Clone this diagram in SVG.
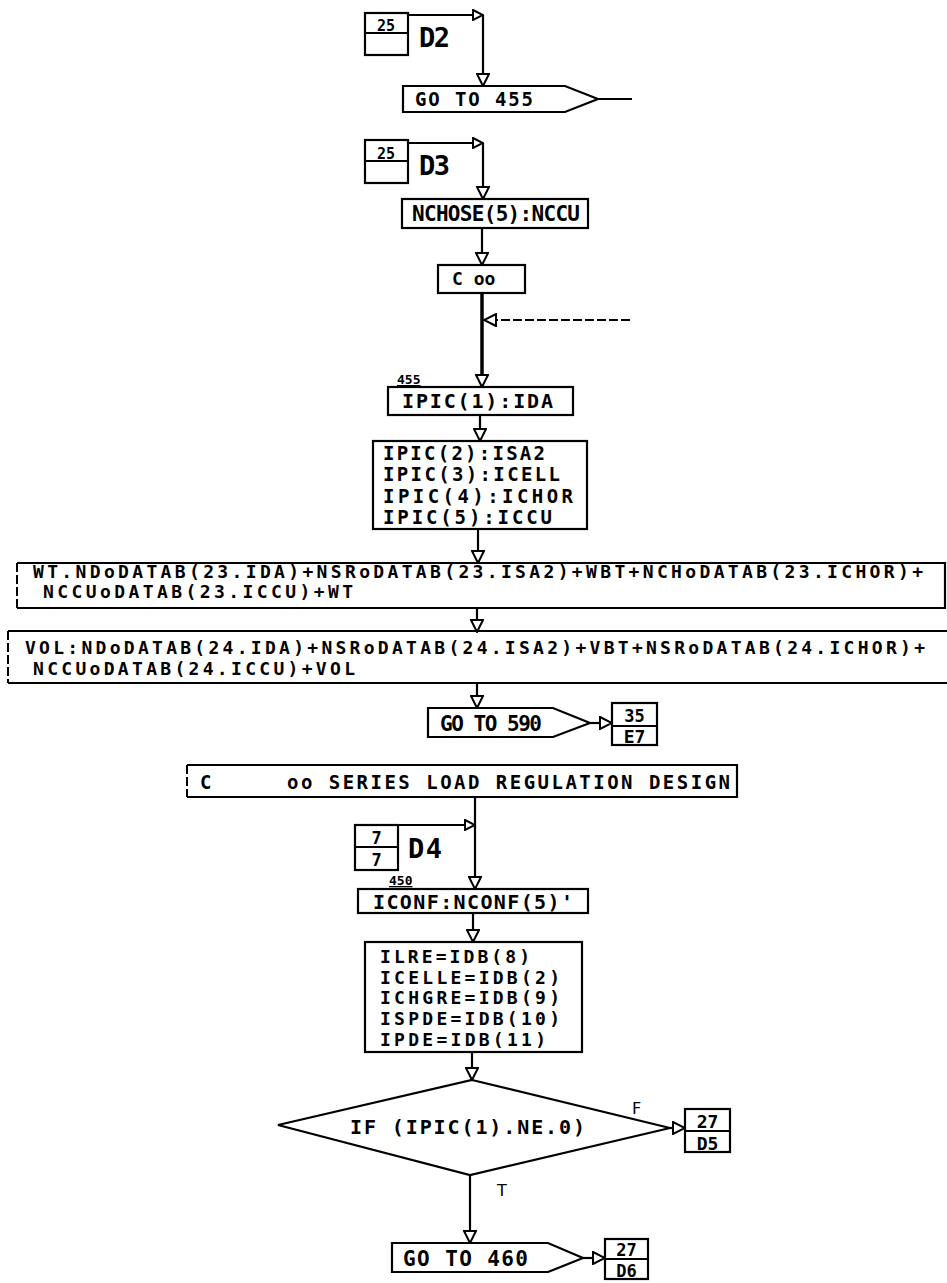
<svg xmlns="http://www.w3.org/2000/svg" width="947" height="1283" viewBox="0 0 947 1283">
<style>
.b{fill:#fff;stroke:#000;stroke-width:2.2}
.c{fill:none;stroke:#000;stroke-width:2.2}
.d{fill:none;stroke:#000;stroke-width:2;stroke-dasharray:9 3}
.t{font-family:"DejaVu Sans Mono","Liberation Mono",monospace;font-weight:bold;fill:#000}
.s{font-family:"DejaVu Sans Mono","Liberation Mono",monospace;font-weight:bold;fill:#000;font-size:13px;text-decoration:underline}
.l{font-family:"DejaVu Sans","Liberation Sans",sans-serif;fill:#000}
</style>
<defs>
<marker id="arr" markerUnits="userSpaceOnUse" viewBox="0 0 14 14" markerWidth="14" markerHeight="14" refX="13" refY="7" orient="auto">
<path d="M1,1 L13,7 L1,13 Z" fill="#fff" stroke="#000" stroke-width="2"/>
</marker>
<marker id="nd" markerUnits="userSpaceOnUse" viewBox="0 0 12 12" markerWidth="12" markerHeight="12" refX="11" refY="6" orient="auto">
<path d="M1,1 L11,6 L1,11 Z" fill="#fff" stroke="#000" stroke-width="2"/>
</marker>
</defs>
<rect width="947" height="1283" fill="#fff"/>

<g id="connectors">
<path class="c" d="M408,15 H483" marker-end="url(#nd)"/>
<path class="c" d="M483,15 V86" marker-end="url(#arr)"/>
<path class="c" d="M598,99 H632"/>
<path class="c" d="M408,143 H483" marker-end="url(#nd)"/>
<path class="c" d="M483,143 V199" marker-end="url(#arr)"/>
<path class="c" d="M482,228 V265" marker-end="url(#arr)"/>
<path fill="none" stroke="#000" stroke-width="3.5" d="M482,293 V387" marker-end="url(#arr)"/>
<path class="d" d="M630,320 H484" marker-end="url(#arr)"/>
<path class="c" d="M480,415 V441" marker-end="url(#arr)"/>
<path class="c" d="M478,529 V563" marker-end="url(#arr)"/>
<path class="c" d="M477,608 V632" marker-end="url(#arr)"/>
<path class="c" d="M477,683 V708" marker-end="url(#arr)"/>
<path class="c" d="M590,723 H612" marker-end="url(#arr)"/>
<path class="c" d="M398,825 H475" marker-end="url(#nd)"/>
<path class="c" d="M475,797 V889" marker-end="url(#arr)"/>
<path class="c" d="M473,913 V942" marker-end="url(#arr)"/>
<path class="c" d="M472,1052 V1080" marker-end="url(#arr)"/>
<path class="c" d="M670,1128 H685" marker-end="url(#arr)"/>
<path class="c" d="M470,1175 V1243" marker-end="url(#arr)"/>
<path class="c" d="M583,1258 H605" marker-end="url(#arr)"/>
<text class="l" x="632" y="1114" font-size="16">F</text>
<text class="l" x="497" y="1196" font-size="16">T</text>
</g>

<g id="icon-d2">
<rect class="b" x="365" y="13" width="43" height="42"/>
<line class="c" x1="365" y1="33" x2="408" y2="33"/>
<text class="t" x="386" y="31" font-size="15" text-anchor="middle">25</text>
<text class="t" x="419" y="47" font-size="27" textLength="31">D2</text>
</g>

<g id="goto455">
<path class="b" d="M403,86 H565 L598,99 L565,112 H403 Z"/>
<text class="t" x="415" y="106" font-size="19" textLength="118">GO TO 455</text>
</g>

<g id="icon-d3">
<rect class="b" x="365" y="140" width="43" height="43"/>
<line class="c" x1="365" y1="161" x2="408" y2="161"/>
<text class="t" x="386" y="159" font-size="15" text-anchor="middle">25</text>
<text class="t" x="419" y="175" font-size="27" textLength="31">D3</text>
</g>

<g id="nchose">
<rect class="b" x="402" y="199" width="186" height="29"/>
<text class="t" x="412" y="221" font-size="21" textLength="168">NCHOSE(5):NCCU</text>
</g>

<g id="comment1">
<rect class="b" x="438" y="265" width="87" height="28"/>
<text class="t" x="452" y="285" font-size="18">C  oo</text>
</g>

<g id="ipic1">
<text class="s" x="397" y="384" font-size="14">455</text>
<rect class="b" x="388" y="387" width="185" height="28"/>
<text class="t" x="402" y="408" font-size="20" textLength="151">IPIC(1):IDA</text>
</g>

<g id="ipic-block">
<rect class="b" x="373" y="441" width="214" height="88"/>
<text class="t" font-size="19">
<tspan x="383" y="460" textLength="162">IPIC(2):ISA2</tspan>
<tspan x="383" y="481" textLength="177">IPIC(3):ICELL</tspan>
<tspan x="383" y="503" textLength="190">IPIC(4):ICHOR</tspan>
<tspan x="383" y="524" textLength="169">IPIC(5):ICCU</tspan>
</text>
</g>

<g id="wt">
<path class="c" d="M17,563 H945 V608 H17" fill="#fff"/>
<path class="d" d="M17,563 V608"/>
<text class="t" font-size="18">
<tspan x="33" y="578" textLength="890">WT.NDoDATAB(23.IDA)+NSRoDATAB(23.ISA2)+WBT+NCHoDATAB(23.ICHOR)+</tspan>
<tspan x="43" y="598" textLength="310">NCCUoDATAB(23.ICCU)+WT</tspan>
</text>
</g>

<g id="vol">
<path class="c" d="M8,631 H947 M947,683 H8" fill="none"/>
<path class="d" d="M8,631 V683"/>
<text class="t" font-size="18">
<tspan x="25" y="654" textLength="900">VOL:NDoDATAB(24.IDA)+NSRoDATAB(24.ISA2)+VBT+NSRoDATAB(24.ICHOR)+</tspan>
<tspan x="33" y="675" textLength="322">NCCUoDATAB(24.ICCU)+VOL</tspan>
</text>
</g>

<g id="goto590">
<path class="b" d="M428,708 H553 L590,723 L553,737 H428 Z"/>
<text class="t" x="440" y="731" font-size="21" textLength="102">GO TO 590</text>
</g>

<g id="offpage-e7">
<rect class="b" x="612" y="703" width="45" height="42"/>
<line class="c" x1="612" y1="726" x2="657" y2="726"/>
<text class="t" x="634.5" y="722" font-size="17" text-anchor="middle">35</text>
<text class="t" x="634.5" y="743" font-size="18" text-anchor="middle">E7</text>
</g>

<g id="comment-series">
<path class="c" d="M187,765 H737 V797 H187" fill="#fff"/>
<path class="d" d="M187,765 V797"/>
<text class="t" x="200" y="789" font-size="19">C</text>
<text class="t" x="287" y="789" font-size="19" textLength="443">oo SERIES LOAD REGULATION DESIGN</text>
</g>

<g id="icon-d4">
<rect class="b" x="355" y="825" width="43" height="45"/>
<line class="c" x1="355" y1="847" x2="398" y2="847"/>
<text class="t" x="376.5" y="844" font-size="17" text-anchor="middle">7</text>
<text class="t" x="376.5" y="866" font-size="17" text-anchor="middle">7</text>
<text class="t" x="408" y="858" font-size="27" textLength="34">D4</text>
</g>

<g id="iconf">
<text class="s" x="389" y="885">450</text>
<rect class="b" x="358" y="889" width="230" height="24"/>
<text class="t" x="373" y="909" font-size="20" textLength="200">ICONF:NCONF(5)'</text>
</g>

<g id="ilre-block">
<rect class="b" x="365" y="942" width="217" height="110"/>
<text class="t" font-size="18">
<tspan x="380" y="963" textLength="150">ILRE=IDB(8)</tspan>
<tspan x="380" y="984" textLength="180">ICELLE=IDB(2)</tspan>
<tspan x="380" y="1004" textLength="180">ICHGRE=IDB(9)</tspan>
<tspan x="380" y="1025" textLength="180">ISPDE=IDB(10)</tspan>
<tspan x="380" y="1046" textLength="166">IPDE=IDB(11)</tspan>
</text>
</g>

<g id="decision">
<path class="b" d="M472,1080 L670,1128 L470,1175 L278,1125 Z"/>
<text class="t" x="350" y="1134" font-size="20" textLength="235">IF (IPIC(1).NE.0)</text>
</g>

<g id="offpage-d5">
<rect class="b" x="685" y="1109" width="45" height="43"/>
<line class="c" x1="685" y1="1131" x2="730" y2="1131"/>
<text class="t" x="707.5" y="1128" font-size="18" text-anchor="middle">27</text>
<text class="t" x="707.5" y="1150" font-size="18" text-anchor="middle">D5</text>
</g>

<g id="goto460">
<path class="b" d="M392,1243 H548 L583,1258 L548,1272 H392 Z"/>
<text class="t" x="403" y="1266" font-size="21" textLength="125">GO TO 460</text>
</g>

<g id="offpage-d6">
<rect class="b" x="605" y="1239" width="43" height="40"/>
<line class="c" x1="605" y1="1259" x2="648" y2="1259"/>
<text class="t" x="626.5" y="1256" font-size="17" text-anchor="middle">27</text>
<text class="t" x="626.5" y="1277" font-size="17" text-anchor="middle">D6</text>
</g>
</svg>
